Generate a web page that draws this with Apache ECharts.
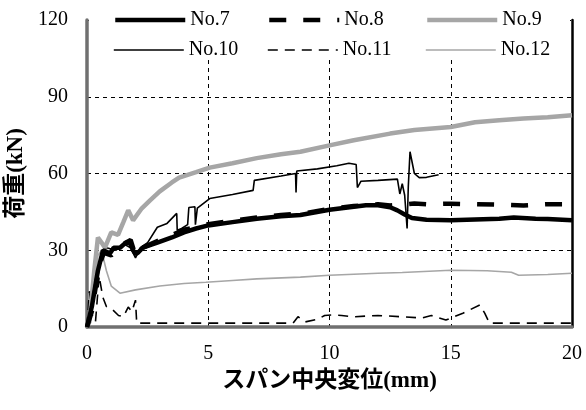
<!DOCTYPE html>
<html><head><meta charset="utf-8">
<script src="https://cdn.jsdelivr.net/npm/echarts@6/dist/echarts.min.js"></script>
<style>html,body{margin:0;padding:0;background:#fff}#c{width:586px;height:410px}</style>
</head><body><div id="c"></div>
<script>
var xTicks = [0, 5, 10, 15, 20];
var yTicks = [0, 30, 60, 90, 120];
var seriesNames = ['No.7', 'No.8', 'No.9', 'No.10', 'No.11', 'No.12'];

var no7X = [0,0.2,0.45,0.66,0.95,1.1,1.36,1.6,1.77,1.9,2.0,2.1,2.3,2.6,2.9,3.5,4.0,4.5,5.0,6.0,7.0,8.0,8.8,10.0,11.0,11.5,12.0,12.5,12.8,13.1,13.4,14.0,15.0,16.0,17.0,17.6,18.5,19.0,20.0];
var no7Y = [0,8,22,30,28.8,31,31,33,32.7,30,28.5,29,31,32,33,35,37,38.5,39.7,41,42.3,43.3,43.8,45.8,47,47.6,47.6,46.8,45.6,44,42.6,41.9,41.7,42,42.3,42.8,42.3,42.2,41.7];

var no8X = [0,0.2,0.5,0.7,1.0,1.4,1.8,2.0,2.3,3.0,4.0,5.0,6.0,7.0,8.0,9.0,10.0,11.0,12.0,12.5,13.0,13.5,14.0,15.0,16.0,17.0,18.0,19.0,20.0];
var no8Y = [0,6,24,29,28,32,34,28,31,34,38,40.2,41.5,42.8,43.8,44.5,46.2,47.3,48,47.5,47.8,48.3,48,48.2,48,47.8,47.5,48,48];

var no9X = [0,0.1,0.3,0.45,0.6,0.74,1.0,1.28,1.5,1.7,1.9,2.26,2.6,3.0,3.5,3.8,4.5,5.06,6.0,7.0,8.0,8.8,10.0,11.0,12.5,13.5,15.0,16.0,17.0,18.0,19.0,20.0];
var no9Y = [0,2,22,35,33,31,37,36,41,45.6,41.7,46.4,49.5,53,56.5,58.4,60.5,62.3,64,66,67.5,68.5,71,73,75.6,77,78.2,80,80.8,81.5,82,82.8];

var no10X = [0,0.3,0.6,0.8,1.2,1.5,1.8,2.0,2.2,2.5,2.9,3.3,3.7,3.72,3.9,4.15,4.2,4.45,4.47,4.55,5.06,6.0,6.85,6.9,8.0,8.6,8.62,8.65,9.5,10.3,10.8,11.1,11.15,11.3,12.0,12.8,12.9,13.0,13.1,13.2,13.25,13.32,13.5,13.7,14.0,14.5];
var no10Y = [0,12,28,31,30,32.5,31,27,31,33,39,40.5,44.4,37.8,38.5,40,46.7,47,40,46.5,50.2,51.8,53.4,57.3,59,60,52.6,61,61.8,63,64,63.5,54.5,57,57.3,57.8,52,56,51.5,38.5,55,68.5,60,58.4,58.5,59.5];

var no11X = [0,0.1,0.2,0.35,0.5,0.65,0.8,1.07,1.3,1.5,1.7,1.85,2.0,2.05,8.5,8.7,9.0,9.5,9.8,10.1,10.5,11.0,12.0,13.0,13.8,14.2,14.8,15.5,16.2,16.4,16.6,20.0];
var no11Y = [0,14,5,2,20,11.7,8,6.6,4.5,4,7.8,6,10.5,1.5,1.5,4,2,3,4.5,4.7,4.5,4,4.5,4,3.5,4.5,2.7,5.4,8.6,5.4,1.5,1.5];

var no12X = [0,0.2,0.45,0.6,0.8,1.0,1.36,2.0,3.0,4.0,4.9,6.0,7.0,8.8,10.0,12.0,13.0,15.0,16.5,17.5,17.8,19.0,20.0];
var no12Y = [0,8,28,30,22,16,13.2,14.5,16,17,17.5,18.2,18.8,19.5,20.2,21,21.3,22.2,22,21.4,20.2,20.5,21];

function zip(xs, ys){ return xs.map(function(x,i){ return [x, ys[i]]; }); }

var styles = [
  {color:'#000', width:4.5, type:'solid'},
  {color:'#000', width:4.5, type:[17,17]},
  {color:'#a6a6a6', width:4.5, type:'solid'},
  {color:'#000', width:1.6, type:'solid'},
  {color:'#000', width:1.6, type:[10,7]},
  {color:'#a6a6a6', width:1.6, type:'solid'}
];
var datas = [zip(no7X,no7Y), zip(no8X,no8Y), zip(no9X,no9Y), zip(no10X,no10Y), zip(no11X,no11Y), zip(no12X,no12Y)];
var drawOrder = [5,4,3,2,1,0];

var series = drawOrder.map(function(i){
  return {
    name: seriesNames[i], type:'line', data: datas[i], showSymbol:false, symbol:'none',
    lineStyle:{color:styles[i].color, width:styles[i].width, type:styles[i].type},
    itemStyle:{color:styles[i].color, opacity:0}, animation:false, z: 2
  };
});

var legendPos = [[108,5],[262,5],[420,5],[108,35],[262,35],[420,35]];
var legends = seriesNames.map(function(n,i){
  return {
    data:[n], left:legendPos[i][0], top:legendPos[i][1], itemWidth:70, itemHeight:20, itemGap:0,
    itemStyle:{opacity:0},
    lineStyle:{width:styles[i].width, color:styles[i].color, type:styles[i].type},
    textStyle:{fontFamily:'Liberation Serif', fontSize:20, color:'#000', padding:[0,0,0,0]},
    selectedMode:false, z:20
  };
});

var font = 'Liberation Serif';
var titleFont = 'Liberation Serif, Noto Sans CJK JP';
var chart = echarts.init(document.getElementById('c'), null, {renderer:'canvas'});
chart.setOption({
  animation:false,
  backgroundColor:'#fff',
  grid:{left:87, right:14, top:20, bottom:83, outerBoundsMode:'none', containLabel:false},
  legend: legends,
  graphic:[{type:'rect', shape:{x:89, y:0, width:481, height:57}, style:{fill:'#fff'}, z:10, silent:true}],
  xAxis:[{
    type:'value', min:xTicks[0], max:xTicks[xTicks.length-1], interval:5,
    name:'スパン中央変位(mm)', nameLocation:'middle', nameGap:43,
    nameTextStyle:{fontFamily:titleFont, fontSize:23, fontWeight:'bold', color:'#000'},
    axisLine:{show:true, onZero:false, lineStyle:{color:'#707070', width:3.5}},
    axisTick:{show:false},
    axisLabel:{fontFamily:font, fontSize:20, color:'#000', margin:17},
    splitLine:{show:true, lineStyle:{color:'#000', width:1, type:[4,4]}}
  },{
    type:'value', position:'top', min:0, max:20, axisLine:{show:false, onZero:false}, axisTick:{show:false}, axisLabel:{show:false}, splitLine:{show:false}
  }],
  yAxis:[{
    type:'value', min:yTicks[0], max:yTicks[yTicks.length-1], interval:30,
    name:'荷重(kN)', nameLocation:'middle', nameGap:53,
    nameTextStyle:{fontFamily:titleFont, fontSize:23, fontWeight:'bold', color:'#000'},
    axisLine:{show:true, onZero:false, lineStyle:{color:'#707070', width:3.5}},
    axisTick:{show:false},
    axisLabel:{fontFamily:font, fontSize:20, color:'#000', margin:19},
    splitLine:{show:true, lineStyle:{color:'#000', width:1, type:[4,4]}}
  },{
    type:'value', position:'right', min:0, max:120, axisLine:{show:true, onZero:false, lineStyle:{color:'#000', width:2.5}},
    axisTick:{show:false}, axisLabel:{show:false}, splitLine:{show:false}
  }],
  series: series
});
</script>
</body></html>
